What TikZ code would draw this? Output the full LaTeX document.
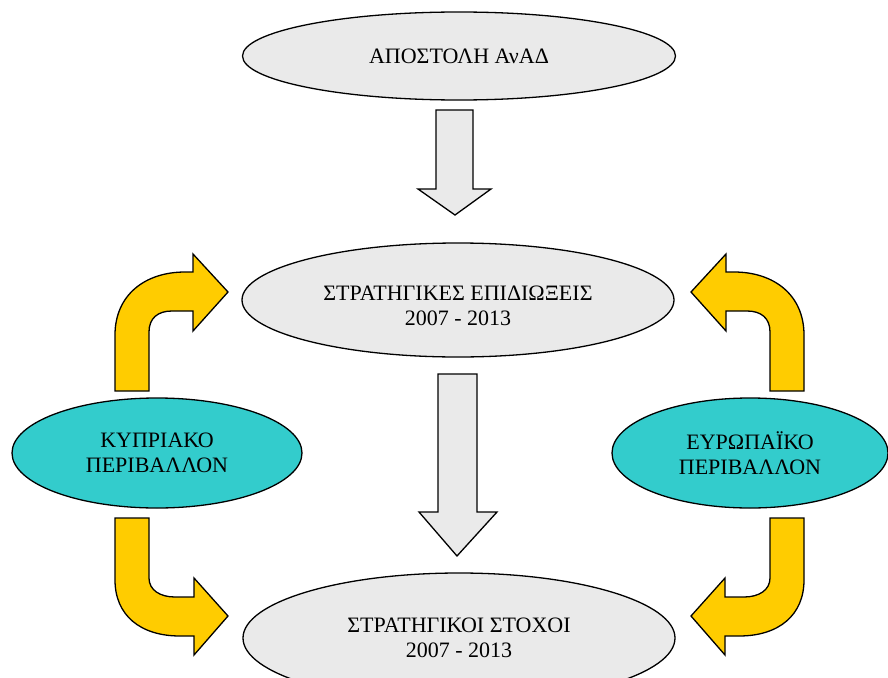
\documentclass[tikz,border=0pt]{standalone}
\usepackage{fontspec}
\setmainfont{Liberation Serif}
\usetikzlibrary{shapes.geometric}
\definecolor{greyfill}{HTML}{EAEAEA}
\definecolor{yfill}{HTML}{FFCC00}
\definecolor{cfill}{HTML}{33CCCC}
\tikzset{
  oval/.style={ellipse, draw=black, line width=1.3pt, fill=greyfill, inner sep=0pt, align=center,
    font=\fontsize{22}{25}\selectfont},
  envoval/.style={oval, fill=cfill},
  greyarrow/.style={draw=black, line width=1.3pt, fill=greyfill, line join=miter},
  yarrow/.style={draw=black, line width=1.3pt, fill=yfill, line join=miter},
}
\begin{document}
\begin{tikzpicture}[x=1pt,y=-1pt]
\useasboundingbox (0,0) rectangle (888,677);
% ellipses
\node[oval, minimum width=433pt, minimum height=88pt] (mission) at (459,56) {ΑΠΟΣΤΟΛΗ ΑνΑΔ};
\node[oval, minimum width=432pt, minimum height=114pt] (goals) at (458,300) {};
\node[font=\fontsize{22}{25}\selectfont, align=center] (goalstext) at (458,306) {ΣΤΡΑΤΗΓΙΚΕΣ ΕΠΙΔΙΩΞΕΙΣ\\2007 - 2013};
\node[oval, minimum width=432pt, minimum height=130pt] (targets) at (459,638) {ΣΤΡΑΤΗΓΙΚΟΙ ΣΤΟΧΟΙ\\2007 - 2013};
\node[envoval, minimum width=290pt, minimum height=110pt] (cy) at (157,453) {ΚΥΠΡΙΑΚΟ\\ΠΕΡΙΒΑΛΛΟΝ};
\node[envoval, minimum width=276pt, minimum height=110pt] (eu) at (750,453) {ΕΥΡΩΠΑΪΚΟ\\ΠΕΡΙΒΑΛΛΟΝ};
% grey block arrows
\draw[greyarrow] (436,110) -- (473,110) -- (473,189) -- (491,189) -- (455,215) -- (418,189) -- (436,189) -- cycle;
\draw[greyarrow] (438,374) -- (477,374) -- (477,512) -- (497,512) -- (457,556) -- (419,512) -- (438,512) -- cycle;
% yellow bent arrows
\draw[yarrow] (115,391) -- (115,335) .. controls (115,295) and (145,272) .. (185,272) -- (193,272) -- (193,254) -- (228,292) -- (193,331) -- (193,311) -- (172,311) .. controls (158,311) and (149,318) .. (149,332) -- (149,391) -- cycle;
\draw[yarrow] (115,518) -- (115,580) .. controls (115,615) and (140,636) .. (180,636) -- (194,636) -- (194,655) -- (228,616) -- (194,578) -- (194,597) -- (175,597) .. controls (160,597) and (149,590) .. (149,578) -- (149,518) -- cycle;
\draw[yarrow] (804,391) -- (804,335) .. controls (804,295) and (774,272) .. (734,272) -- (726,272) -- (726,254) -- (691,292) -- (726,331) -- (726,311) -- (747,311) .. controls (761,311) and (770,318) .. (770,332) -- (770,391) -- cycle;
\draw[yarrow] (804,518) -- (804,580) .. controls (804,615) and (779,636) .. (739,636) -- (725,636) -- (725,655) -- (691,616) -- (725,578) -- (725,597) -- (744,597) .. controls (759,597) and (770,590) .. (770,578) -- (770,518) -- cycle;
\end{tikzpicture}
\end{document}
